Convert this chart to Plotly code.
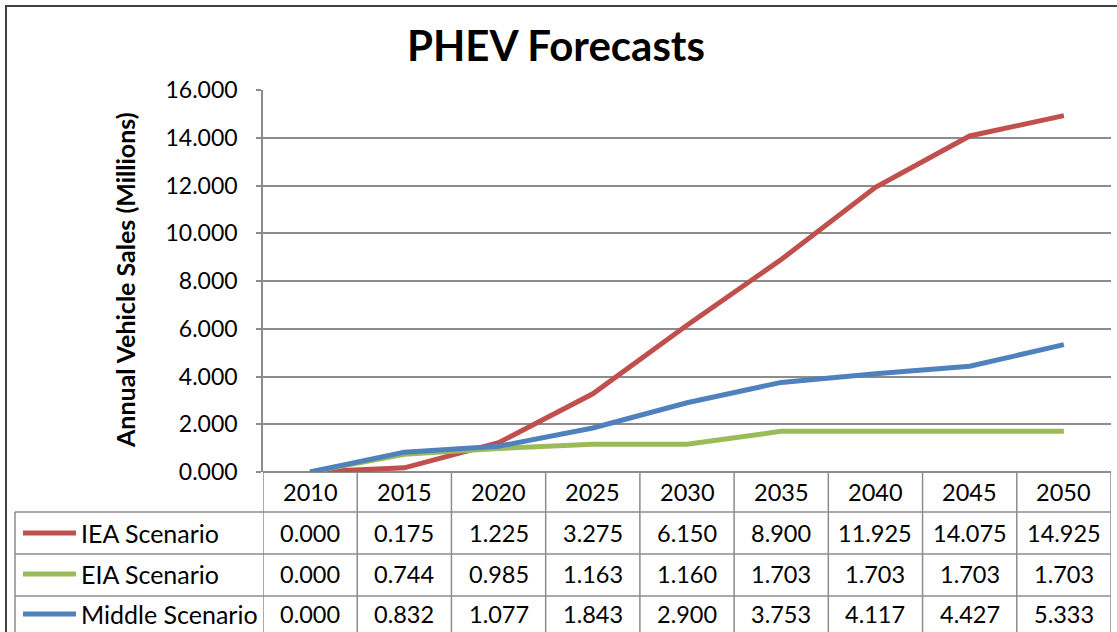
import plotly.graph_objects as go

years = ["2010", "2015", "2020", "2025", "2030", "2035", "2040", "2045", "2050"]
iea = [0.000, 0.175, 1.225, 3.275, 6.150, 8.900, 11.925, 14.075, 14.925]
eia = [0.000, 0.744, 0.985, 1.163, 1.160, 1.703, 1.703, 1.703, 1.703]
middle = [0.000, 0.832, 1.077, 1.843, 2.900, 3.753, 4.117, 4.427, 5.333]
series_names = ["IEA Scenario", "EIA Scenario", "Middle Scenario"]
series_colors = ["#C0504D", "#9BBB59", "#4F81BD"]
series_values = [iea, eia, middle]

W, H = 1117, 632
L, R, T, B = 263, 1111, 90, 472
FONT = "Lato"
GRID = "#8c8c8c"
TXT = 23.5


def px2x(px):
    return (px - L) / (R - L)


def py2y(py):
    return (B - py) / (B - T)


fig = go.Figure()
xs = list(range(len(years)))
for name, col, vals in zip(series_names, series_colors, series_values):
    fig.add_trace(go.Scatter(x=xs, y=vals, mode="lines", name=name,
                             line=dict(color=col, width=5), showlegend=False))

shapes = []
ann = []

# outer chart border
shapes.append(dict(type="line", xref="paper", yref="paper", x0=px2x(6), x1=px2x(6),
                   y0=py2y(5), y1=py2y(640), line=dict(color="#404040", width=2)))
shapes.append(dict(type="line", xref="paper", yref="paper", x0=px2x(5), x1=px2x(1125),
                   y0=py2y(6), y1=py2y(6), line=dict(color="#404040", width=2)))

# data table geometry
header_top, header_bot = 472, 512
row_edges = [512, 554, 596, 640]
row_centers = [533, 574, 614]
tbl_left = 15

for i in range(len(years) + 1):
    shapes.append(dict(type="line", xref="x", yref="paper", x0=i - 0.5, x1=i - 0.5,
                       y0=py2y(header_top), y1=py2y(row_edges[-1]),
                       line=dict(color=GRID, width=1.5), layer="below"))
shapes.append(dict(type="line", xref="paper", yref="paper", x0=px2x(tbl_left), x1=px2x(tbl_left),
                   y0=py2y(row_edges[0]), y1=py2y(row_edges[-1]),
                   line=dict(color=GRID, width=1.5)))
for ye in row_edges[:-1]:
    shapes.append(dict(type="line", xref="paper", yref="paper", x0=px2x(tbl_left), x1=1,
                       y0=py2y(ye), y1=py2y(ye), line=dict(color=GRID, width=1.5)))

for i, yr in enumerate(years):
    ann.append(dict(x=i, y=py2y(492), xref="x", yref="paper",
                    text=yr, showarrow=False, font=dict(family=FONT, size=TXT, color="black"),
                    xanchor="center", yanchor="middle"))

for r, (name, col, vals) in enumerate(zip(series_names, series_colors, series_values)):
    yc = row_centers[r]
    shapes.append(dict(type="line", xref="paper", yref="paper", x0=px2x(23), x1=px2x(76),
                       y0=py2y(yc), y1=py2y(yc), line=dict(color=col, width=5)))
    ann.append(dict(x=px2x(79), y=py2y(yc), xref="paper", yref="paper", text=name,
                    showarrow=False, font=dict(family=FONT, size=25, color="black"),
                    xanchor="left", yanchor="middle"))
    for i, v in enumerate(vals):
        ann.append(dict(x=i, y=py2y(yc), xref="x", yref="paper", text=f"{v:.3f}",
                        showarrow=False, font=dict(family=FONT, size=TXT, color="black"),
                        xanchor="center", yanchor="middle"))

ann.append(dict(x=px2x(556), y=py2y(45), xref="paper", yref="paper", text="<b>PHEV Forecasts</b>",
                showarrow=False, font=dict(family=FONT, size=42, color="black"),
                xanchor="center", yanchor="middle"))
ann.append(dict(x=px2x(125), y=py2y(280), xref="paper", yref="paper",
                text="<b>Annual Vehicle Sales (Millions)</b>", textangle=-90,
                showarrow=False, font=dict(family=FONT, size=25, color="black"),
                xanchor="center", yanchor="middle"))

fig.update_layout(
    width=W, height=H,
    margin=dict(l=L, r=W - R, t=T, b=H - B, pad=0),
    paper_bgcolor="white", plot_bgcolor="white",
    shapes=shapes, annotations=ann,
    xaxis=dict(range=[-0.5, 8.5], showticklabels=False, showgrid=False, zeroline=False,
               showline=False, ticks=""),
    yaxis=dict(range=[0, 16], dtick=2, tickformat=".3f", showgrid=True, gridcolor=GRID,
               gridwidth=1.5, zeroline=True, zerolinecolor=GRID, zerolinewidth=1.5,
               showline=True, linecolor=GRID, linewidth=1.5,
               ticks="outside", ticklen=5, tickcolor=GRID, tickwidth=1.5,
               ticklabelstandoff=14,
               tickfont=dict(family=FONT, size=23, color="black")),
    font=dict(family=FONT),
)

fig.write_html("out.html", config={"displayModeBar": False},
               post_script="document.body.style.margin='0';")
